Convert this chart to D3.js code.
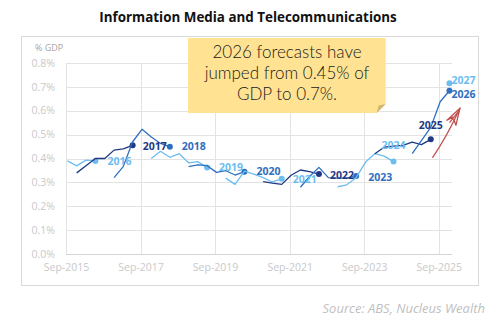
<!DOCTYPE html>
<html>
<head>
<meta charset="utf-8">
<script src="https://cdn.jsdelivr.net/npm/d3@7"></script>
<style>
  body { margin: 0; background: #fff; }
  svg { display: block; }
</style>
</head>
<body>
<svg id="chart" width="495" height="322"></svg>
<script>
// Forecast of spending (% of GDP) for each financial year, one series per year,
// each made from successive quarterly estimates ending at June of that year.
const fyears = [2016, 2017, 2018, 2019, 2020, 2021, 2022, 2023, 2024, 2025, 2026, 2027];
const firstEstimate = ["2015-09", "2015-12", "2016-12", "2017-12", "2018-12", "2019-12",
                       "2020-12", "2021-12", "2022-12", "2023-12", "2024-12", "2025-12"];
const fy2016 = [0.390, 0.369, 0.393, 0.390];
const fy2017 = [0.340, 0.370, 0.400, 0.400, 0.435, 0.440, 0.455];
const fy2018 = [0.320, 0.366, 0.470, 0.522, 0.490, 0.463, 0.449];
const fy2019 = [0.400, 0.430, 0.405, 0.420, 0.382, 0.387, 0.362];
const fy2020 = [0.366, 0.373, 0.370, 0.342, 0.349, 0.331, 0.345];
const fy2021 = [0.318, 0.292, 0.347, 0.335, 0.320, 0.302, 0.315];
const fy2022 = [0.303, 0.297, 0.292, 0.330, 0.352, 0.345, 0.335];
const fy2023 = [0.280, 0.325, 0.363, 0.320, 0.318, 0.318, 0.327];
const fy2024 = [0.282, 0.290, 0.320, 0.385, 0.420, 0.410, 0.387];
const fy2025 = [0.420, 0.447, 0.452, 0.455, 0.468, 0.458, 0.480];
const fy2026 = [0.420, 0.475, 0.530, 0.637, 0.683];
const fy2027 = [0.714];
const seriesValues = [fy2016, fy2017, fy2018, fy2019, fy2020, fy2021,
                      fy2022, fy2023, fy2024, fy2025, fy2026, fy2027];

const yTicks = [0, 0.1, 0.2, 0.3, 0.4, 0.5, 0.6, 0.7, 0.8];
const xTickDates = ["2015-09", "2017-09", "2019-09", "2021-09", "2023-09", "2025-09"];

const title = "Information Media and Telecommunications";
const yUnit = "% GDP";
const source = "Source: ABS, Nucleus Wealth";
const noteLines = ["2026 forecasts have", "jumped from 0.45% of", "GDP to 0.7%."];
// arrow drawn from the 2025 estimate up towards the 2026 forecast
const arrowFrom = ["2025-07-04", 0.405];
const arrowTo = ["2026-03-28", 0.61];

// styling
const LIGHT = "#6DBDF0", NAVY = "#1F3884", MID = "#2E6FBF";
const seriesColor = [LIGHT, NAVY, MID, LIGHT, MID, LIGHT, NAVY, MID, LIGHT, NAVY, MID, LIGHT];
const labelAnchor = ["start","start","start","start","start","start","start","start","middle","middle","start","start"];
const labelDx = [12, 10, 12, 12, 12, 11, 11, 12, 0, 0, 2, 2];
const labelDy = [0, 1, 0, 0, 0, 0, 1, 1, -16, -14, 4, -2.5];

const svg = d3.select("#chart");
const parseMonth = d3.timeParse("%Y-%m");
const parseDay = d3.timeParse("%Y-%m-%d");

const plot = { left: 66, right: 452, top: 62.7, bottom: 254.3 };

const x = d3.scaleTime()
  .domain([parseDay("2015-09-01"), parseDay("2026-01-09")])
  .range([plot.left, plot.right]);
const y = d3.scaleLinear().domain([0, 0.8]).range([plot.bottom, plot.top]);

// chart frame
svg.append("rect")
  .attr("x", 21.5).attr("y", 36.5).attr("width", 457).attr("height", 249)
  .attr("fill", "#fff").attr("stroke", "#D9D9D9").attr("stroke-width", 1);

// title
svg.append("text")
  .attr("x", 248).attr("y", 21.5)
  .attr("text-anchor", "middle")
  .attr("font-family", "'Open Sans', sans-serif")
  .attr("font-weight", 700).attr("font-size", 13.4)
  .attr("fill", "#111")
  .text(title);

// horizontal gridlines + y labels
const yAxis = d3.axisLeft(y).tickValues(yTicks)
  .tickFormat(d => d3.format(".1f")(d) + "%")
  .tickSize(-(plot.right - plot.left)).tickPadding(11);
const gy = svg.append("g").attr("transform", `translate(${plot.left},0)`).call(yAxis);
gy.select(".domain").remove();
gy.selectAll(".tick line").attr("stroke", "#E3E3E3").attr("shape-rendering", "crispEdges");
gy.selectAll(".tick text")
  .attr("font-family", "'Open Sans', sans-serif").attr("font-size", 10.5)
  .attr("fill", "#C9C9C9");

// vertical gridlines + x labels
const xAxis = d3.axisBottom(x).tickValues(xTickDates.map(parseMonth))
  .tickFormat(d3.timeFormat("%b-%Y"))
  .tickSize(-(plot.bottom - plot.top)).tickPadding(9);
const gx = svg.append("g").attr("transform", `translate(0,${plot.bottom})`).call(xAxis);
gx.select(".domain").remove();
gx.selectAll(".tick line").attr("stroke", "#E3E3E3").attr("shape-rendering", "crispEdges");
gx.selectAll(".tick text")
  .attr("font-family", "'Open Sans', sans-serif").attr("font-size", 10.5)
  .attr("fill", "#C9C9C9");

// base axis line
svg.append("line")
  .attr("x1", plot.left).attr("x2", plot.right)
  .attr("y1", y(0)).attr("y2", y(0))
  .attr("stroke", "#D4D4D4").attr("shape-rendering", "crispEdges");

// unit label
svg.append("text")
  .attr("x", 35).attr("y", 51)
  .attr("font-family", "'Open Sans', sans-serif").attr("font-size", 9)
  .attr("fill", "#A6A6A6")
  .text(yUnit);

// note box with folded corner
const note = svg.append("g");
const bx0 = 188, bx1 = 385.7, by0 = 38, by1 = 113, fold = 9;
note.append("path")
  .attr("d", `M${bx0},${by0}H${bx1}V${by1 - fold}L${bx1 - fold},${by1}H${bx0}Z`)
  .attr("fill", "#FFE393");
note.append("path")
  .attr("d", `M${bx1},${by1 - fold}L${bx1 - fold},${by1}L${bx1 - fold + 2},${by1 - fold + 1.5}Z`)
  .attr("fill", "#D2B46E");
note.selectAll("text.note").data(noteLines).join("text")
  .attr("class", "note")
  .attr("x", 287).attr("y", (d, i) => 58 + i * 21)
  .attr("text-anchor", "middle")
  .attr("font-family", "Lato, sans-serif").attr("font-weight", 300).attr("font-size", 17)
  .attr("fill", "#1A1A1A")
  .text(d => d);

// series
const series = fyears.map((fy, i) => {
  const start = parseMonth(firstEstimate[i]);
  return {
    fy, color: seriesColor[i], i,
    points: seriesValues[i].map((v, k) => {
      const d = d3.timeMonth.offset(start, 3 * k);
      d.setDate(15);
      return { date: d, v };
    })
  };
});

svg.append("clipPath").attr("id", "plotClip")
  .append("rect").attr("x", plot.left).attr("y", plot.top - 10)
  .attr("width", plot.right - plot.left + 10).attr("height", plot.bottom - plot.top + 10);

const line = d3.line().x(d => x(d.date)).y(d => y(d.v));
const gs = svg.append("g").attr("clip-path", "url(#plotClip)");
series.forEach(s => {
  gs.append("path")
    .attr("d", line(s.points))
    .attr("fill", "none").attr("stroke", s.color)
    .attr("stroke-width", 1.3).attr("stroke-linejoin", "round");
  const last = s.points[s.points.length - 1];
  gs.append("circle")
    .attr("cx", x(last.date)).attr("cy", y(last.v)).attr("r", 3)
    .attr("fill", s.color);
});

// year labels at final estimate
svg.append("g").selectAll("text").data(series).join("text")
  .attr("x", s => x(s.points[s.points.length - 1].date) + labelDx[s.i])
  .attr("y", s => y(s.points[s.points.length - 1].v) + labelDy[s.i])
  .attr("dy", "0.35em")
  .attr("text-anchor", s => labelAnchor[s.i])
  .attr("font-family", "'Open Sans', sans-serif").attr("font-weight", 700).attr("font-size", 10.5)
  .attr("fill", s => s.color)
  .text(s => s.fy);

// hand-drawn arrow
const ax0 = x(parseDay(arrowFrom[0])), ay0 = y(arrowFrom[1]);
const ax1 = x(parseDay(arrowTo[0])), ay1 = y(arrowTo[1]);
const arrow = svg.append("g").attr("fill", "none").attr("stroke", "#C0504D")
  .attr("stroke-width", 1.3).attr("stroke-linecap", "round").attr("stroke-linejoin", "round");
arrow.append("path")
  .attr("d", `M${ax0},${ay0}Q${(ax0 + ax1) / 2 + 1},${(ay0 + ay1) / 2 + 3} ${ax1},${ay1}`);
arrow.append("path")
  .attr("d", `M${ax1 - 13},${ay1 + 12}L${ax1},${ay1}L${ax1 - 4},${ay1 + 17}L${ax1 - 7},${ay1 + 9}L${ax1 - 13},${ay1 + 12}M${ax1 - 10},${ay1 + 14}L${ax1 - 2},${ay1 + 4}`);

// source
svg.append("text")
  .attr("x", 485).attr("y", 312.5)
  .attr("text-anchor", "end")
  .attr("font-family", "'Open Sans', sans-serif").attr("font-style", "italic").attr("font-size", 13)
  .attr("fill", "#BFBFBF")
  .text(source);
</script>
</body>
</html>
